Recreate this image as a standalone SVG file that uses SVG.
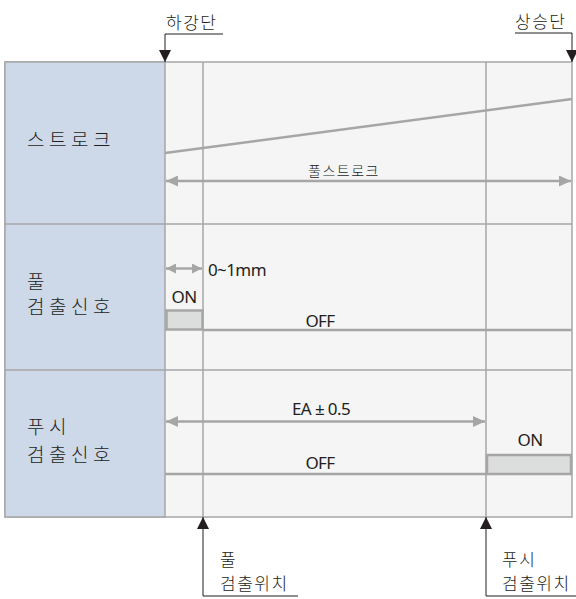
<svg xmlns="http://www.w3.org/2000/svg" width="576" height="599" viewBox="0 0 576 599">
<style>
text{font-family:"Noto Sans CJK KR","Noto Sans",sans-serif;fill:#231f20;font-weight:300}
.lbl{font-size:19px;letter-spacing:4.5px}
.cap{font-size:17px;letter-spacing:1.5px}
.sm{font-size:17px;font-family:"Noto Sans","Noto Sans CJK KR",sans-serif;font-weight:400;letter-spacing:-0.6px}
.tiny{font-size:14px;letter-spacing:1.5px}
.g{stroke:#a6a6a6;stroke-width:1.5;fill:none}
.gt{stroke:#a6a6a6;stroke-width:2.5;fill:none}
.k{stroke:#231f20;stroke-width:1;fill:none}
</style>
<defs>
<marker id="ga" markerWidth="12" markerHeight="11" refX="12" refY="5.5" orient="auto-start-reverse" markerUnits="userSpaceOnUse"><path d="M0,0 L12,5.5 L0,11 Z" fill="#a6a6a6"/></marker>
<marker id="gs" markerWidth="10" markerHeight="10" refX="10" refY="5" orient="auto-start-reverse" markerUnits="userSpaceOnUse"><path d="M0,0 L10,5 L0,10 Z" fill="#a6a6a6"/></marker>
<marker id="ka" markerWidth="12" markerHeight="12" refX="6" refY="12" orient="0" markerUnits="userSpaceOnUse"><path d="M0,0 L12,0 L6,12 Z" fill="#231f20"/></marker>
<marker id="kb" markerWidth="12" markerHeight="12" refX="6" refY="0" orient="0" markerUnits="userSpaceOnUse"><path d="M0,12 L12,12 L6,0 Z" fill="#231f20"/></marker>
</defs>
<g id="frame">
<rect x="5" y="62" width="567" height="455" fill="#f5f5f5" stroke="#a6a6a6" stroke-width="1.5"/>
<rect x="5" y="62" width="160" height="455" fill="#cdd8e9" stroke="#a6a6a6" stroke-width="1.5"/>
<line class="g" x1="5" y1="224" x2="572" y2="224"/>
<line class="g" x1="5" y1="370" x2="572" y2="370"/>
<line class="g" x1="203" y1="62" x2="203" y2="517" stroke-width="1"/>
<line class="g" x1="486" y1="62" x2="486" y2="517" stroke-width="1"/>
</g>
<g id="row-stroke">
<text class="lbl" x="27" y="147">스트로크</text>
</g>
<g id="row-full">
<text class="lbl" x="27" y="289">풀</text>
<text class="lbl" x="27" y="314">검출신호</text>
<rect x="166.5" y="310.5" width="36" height="19" fill="#dcdddd" stroke="#a6a6a6" stroke-width="2.5"/>
<text class="sm" x="184" y="303" text-anchor="middle">ON</text>
<text class="sm" x="320" y="327" text-anchor="middle">OFF</text>
<text class="sm" x="208" y="276">0~1mm</text>
</g>
<g id="row-push">
<text class="lbl" x="27" y="434">푸시</text>
<text class="lbl" x="27" y="462">검출신호</text>
<rect x="487" y="455" width="84" height="19" fill="#dcdddd" stroke="#a6a6a6" stroke-width="2.5"/>
<text class="sm" x="530" y="446" text-anchor="middle">ON</text>
<text class="sm" x="320" y="469" text-anchor="middle">OFF</text>
<text class="sm" x="321" y="415" text-anchor="middle">EA ± 0.5</text>
</g>
<g id="label-lower">
<text class="cap" x="166" y="29">하강단</text>
</g>
<g id="label-upper">
<text class="cap" x="515" y="28">상승단</text>
</g>
<g id="label-full-pos">
<text class="cap" x="220" y="566">풀</text>
<text class="cap" x="220" y="590">검출위치</text>
</g>
<g id="label-push-pos">
<text class="cap" x="502" y="566">푸시</text>
<text class="cap" x="502" y="590">검출위치</text>
</g>
<g id="connectors">
<line class="gt" x1="165" y1="153" x2="572" y2="99"/>
<line class="gt" x1="166" y1="181" x2="571" y2="181" marker-start="url(#ga)" marker-end="url(#ga)"/>
<text class="tiny" x="344" y="176" text-anchor="middle">풀스트로크</text>
<line class="gt" x1="166" y1="268.5" x2="202" y2="268.5" marker-start="url(#gs)" marker-end="url(#gs)"/>
<line class="gt" x1="166" y1="421.5" x2="485" y2="421.5" marker-start="url(#ga)" marker-end="url(#ga)"/>
<line class="gt" x1="203" y1="330" x2="572" y2="330"/>
<line class="gt" x1="165" y1="474" x2="487" y2="474"/>
<polyline class="k" points="223,34 165,34 165,62" marker-end="url(#ka)"/>
<polyline class="k" points="515,33 572,33 572,62" marker-end="url(#ka)"/>
<polyline class="k" points="298,596 203,596 203,517" marker-end="url(#kb)"/>
<polyline class="k" points="576,596 486,596 486,517" marker-end="url(#kb)"/>
</g>
</svg>
